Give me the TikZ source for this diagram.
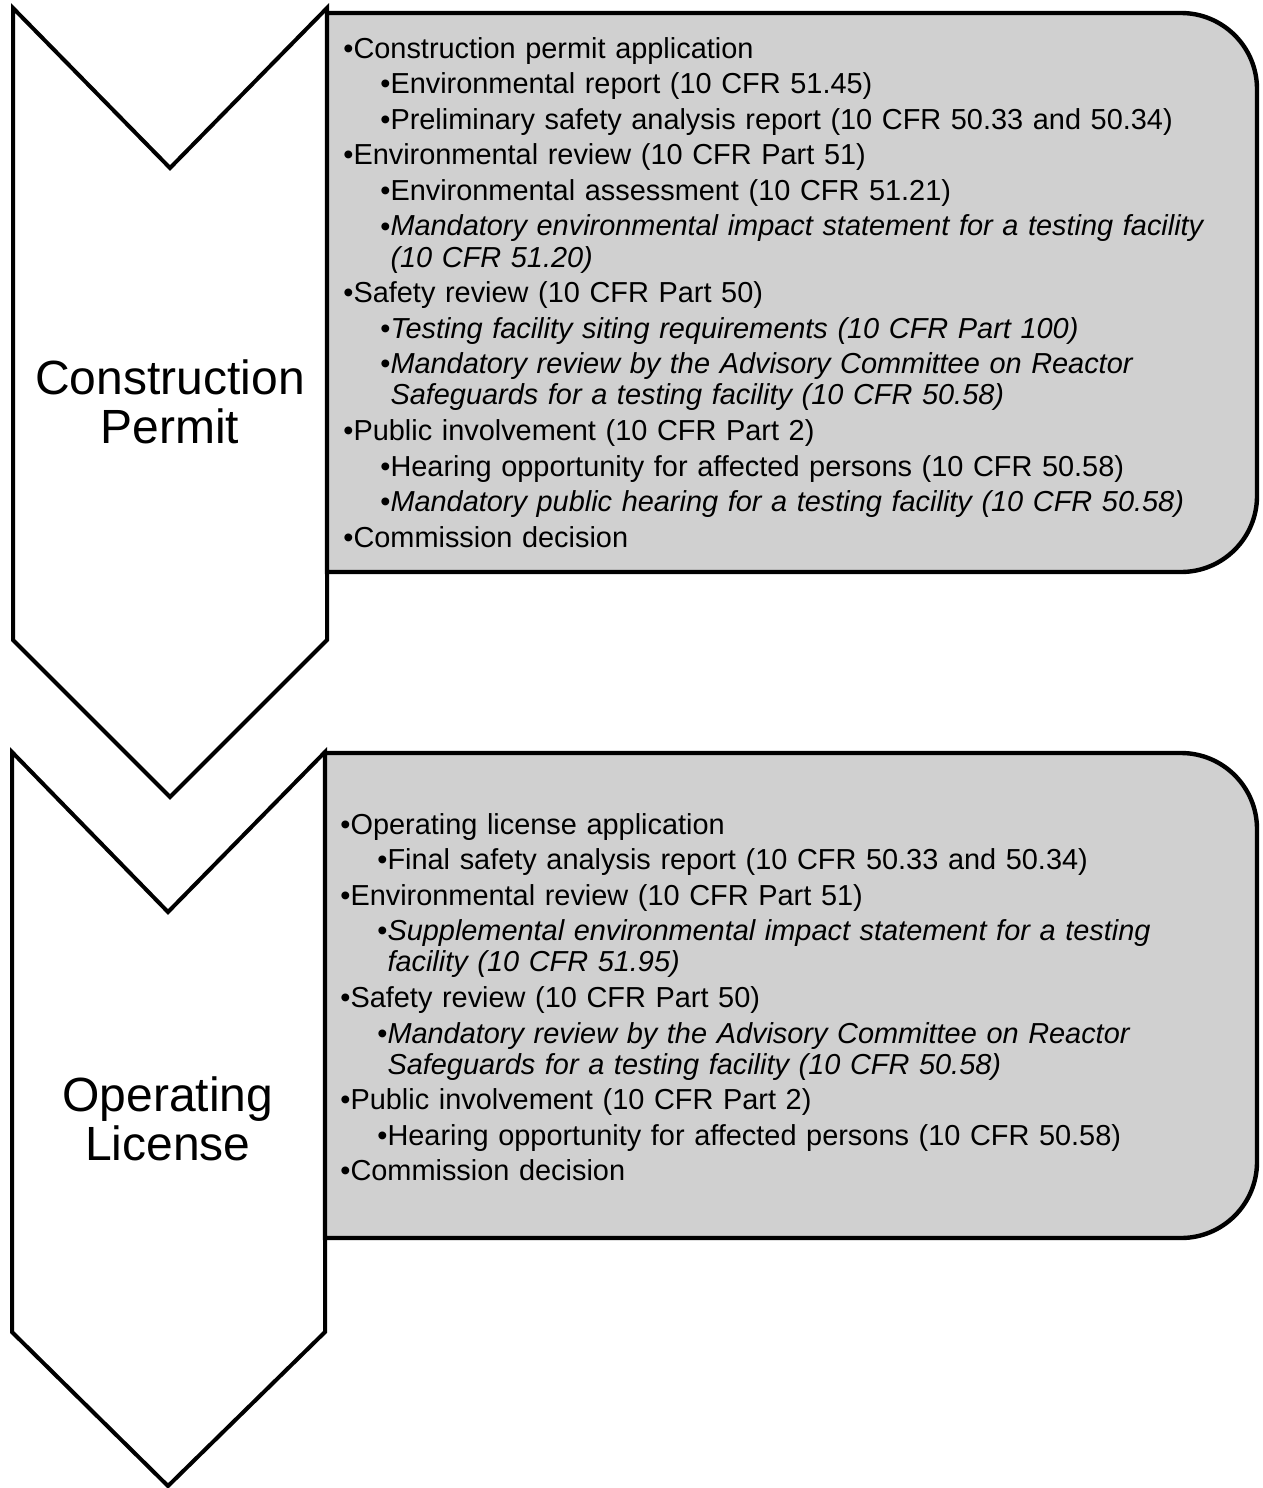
\documentclass[tikz,border=0pt]{standalone}
\usepackage{fontspec}
\setmainfont{Liberation Sans}
\definecolor{panelgray}{HTML}{D0D0D0}
\newlength{\bulw}
\newcommand{\liststart}{\raggedright\setlength{\parskip}{2.3pt}\settowidth{\bulw}{\textbullet}}
\newcommand{\lvlone}[1]{\leftskip=0pt\hangindent=\bulw\hangafter=1 \textbullet#1\par}
\newcommand{\lvltwo}[1]{\leftskip=18.5pt\hangindent=\bulw\hangafter=1 \textbullet#1\par}
\begin{document}
\begin{tikzpicture}[x=0.5pt,y=-0.5pt,
  chevron/.style={draw=black,line width=2pt,fill=white,line join=miter},
  panel/.style={draw=black,line width=2.2pt,fill=panelgray},
  stagetext/.style={align=center,inner sep=0pt,font=\fontsize{24}{24.5}\selectfont},
  listtext/.style={anchor=base west,text width=450pt,inner sep=0pt,font=\fontsize{14.45}{15.5}\selectfont}]
\useasboundingbox (0,0) rectangle (1263,1488);

% construction permit
\draw[chevron] (13,8)--(170,168)--(327,8)--(327,640)--(170,797)--(13,640)--cycle;
\draw[panel] (327,13)--(1181,13) arc[start angle=-90,end angle=0,radius=76]--(1257,496)
  arc[start angle=0,end angle=90,radius=76]--(327,572)--cycle;
\node[stagetext] (cp) at (170,402) {Construction\\Permit};
\node[listtext] (cplist) at (343,58) {\liststart
  \lvlone{Construction permit application}
  \lvltwo{Environmental report (10 CFR 51.45)}
  \lvltwo{Preliminary safety analysis report (10 CFR 50.33 and 50.34)}
  \lvlone{Environmental review (10 CFR Part 51)}
  \lvltwo{Environmental assessment (10 CFR 51.21)}
  \lvltwo{\textit{Mandatory environmental impact statement for a testing facility}\newline\textit{(10 CFR 51.20)}}
  \lvlone{Safety review (10 CFR Part 50)}
  \lvltwo{\textit{Testing facility siting requirements (10 CFR Part 100)}}
  \lvltwo{\textit{Mandatory review by the Advisory Committee on Reactor}\newline\textit{Safeguards for a testing facility (10 CFR 50.58)}}
  \lvlone{Public involvement (10 CFR Part 2)}
  \lvltwo{Hearing opportunity for affected persons (10 CFR 50.58)}
  \lvltwo{\textit{Mandatory public hearing for a testing facility (10 CFR 50.58)}}
  \lvlone{Commission decision}};

% operating license
\draw[chevron] (12,752)--(168,912)--(325,752)--(325,1332)--(168,1486)--(12,1332)--cycle;
\draw[panel] (325,753)--(1181,753) arc[start angle=-90,end angle=0,radius=76]--(1257,1162)
  arc[start angle=0,end angle=90,radius=76]--(325,1238)--cycle;
\node[stagetext] (ol) at (168,1119) {Operating\\License};
\node[listtext] (ollist) at (340,834) {\liststart
  \lvlone{Operating license application}
  \lvltwo{Final safety analysis report (10 CFR 50.33 and 50.34)}
  \lvlone{Environmental review (10 CFR Part 51)}
  \lvltwo{\textit{Supplemental environmental impact statement for a testing}\newline\textit{facility (10 CFR 51.95)}}
  \lvlone{Safety review (10 CFR Part 50)}
  \lvltwo{\textit{Mandatory review by the Advisory Committee on Reactor}\newline\textit{Safeguards for a testing facility (10 CFR 50.58)}}
  \lvlone{Public involvement (10 CFR Part 2)}
  \lvltwo{Hearing opportunity for affected persons (10 CFR 50.58)}
  \lvlone{Commission decision}};
\end{tikzpicture}
\end{document}
